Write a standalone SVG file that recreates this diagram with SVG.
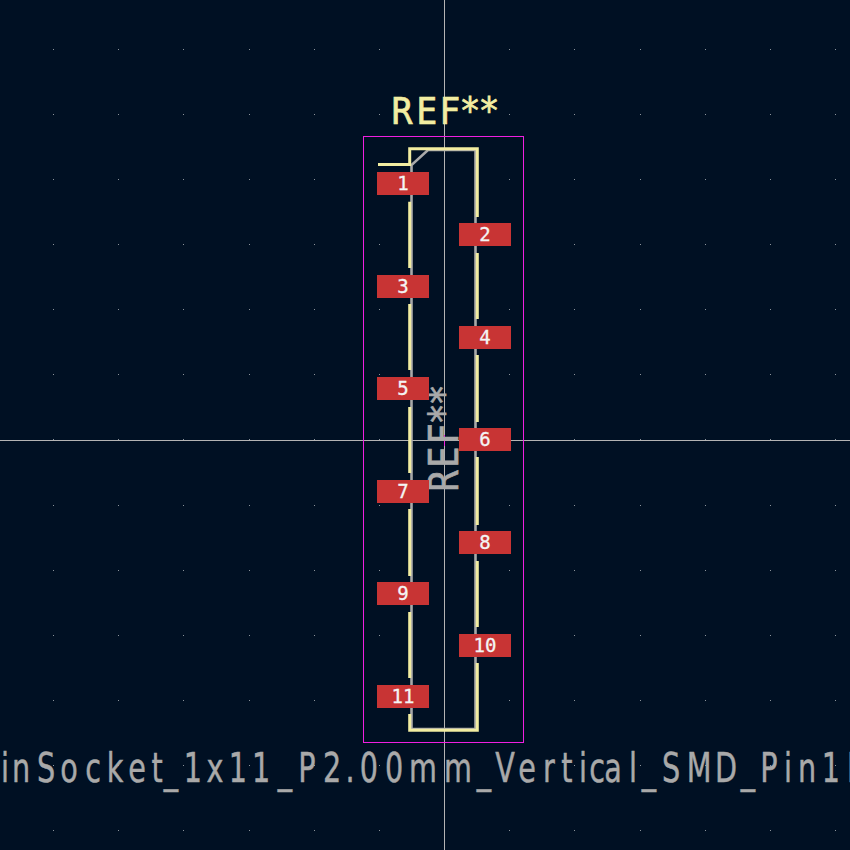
<svg xmlns="http://www.w3.org/2000/svg" width="850" height="850" viewBox="0 0 850 850">
<style>
.fab{fill:none;stroke:#a9a9a9;stroke-width:2.6}
.silk{fill:none;stroke:#f2eda1;stroke-width:3}
.cross{stroke:#b4b4b4;stroke-width:1}
.pad{fill:#c83434}
.num{fill:#f4f4f4;font-family:"DejaVu Sans Mono",monospace;font-size:19px;text-anchor:middle;stroke:#f4f4f4;stroke-width:.3}
.big{font-family:"DejaVu Sans Mono",monospace;stroke-width:.7;text-anchor:middle}
.val{font-family:"DejaVu Sans",sans-serif;stroke-width:.5;text-anchor:middle}
</style>
<defs>
<path id="row" fill="#8c939b" d="M53 0h1v1h-1zM118 0h1v1h-1zM183 0h1v1h-1zM249 0h1v1h-1zM314 0h1v1h-1zM379 0h1v1h-1zM444 0h1v1h-1zM509 0h1v1h-1zM574 0h1v1h-1zM640 0h1v1h-1zM705 0h1v1h-1zM770 0h1v1h-1zM835 0h1v1h-1z"/>
</defs>
<rect width="850" height="850" fill="#001023"/>
<g id="grid">
<use href="#row" y="49"/><use href="#row" y="114"/><use href="#row" y="179"/><use href="#row" y="244"/><use href="#row" y="309"/><use href="#row" y="374"/><use href="#row" y="439"/><use href="#row" y="505"/><use href="#row" y="570"/><use href="#row" y="635"/><use href="#row" y="700"/><use href="#row" y="765"/><use href="#row" y="830"/>
</g>
<path class="cross" d="M444.5 0V850M0 440.5H850"/>
<rect x="363.5" y="136.5" width="160" height="606" fill="none" stroke="#f01fe0" stroke-width="1"/>
<path d="M444.5 435V446" stroke="#f01fe0" stroke-width="1"/>
<path class="fab" d="M428 150H475.5V729H411.5V165Z"/>
<g id="silk">
<path class="silk" d="M378 164.5H409.7V148.7H477.3V217"/>
<path class="silk" d="M409.7 201.7V268M409.7 304V370M409.7 407V473M409.7 509V576M409.7 612V678M409.7 714V730.3H477.3V663"/>
<path class="silk" d="M477.3 253V319M477.3 355V422M477.3 457V525M477.3 561V627"/>
</g>
<text class="big" transform="translate(0 124) scale(.92 1)" font-size="38" fill="#f2eda1" stroke="#f2eda1" x="437 464 489 511 531.5">REF**</text>
<text class="big" transform="translate(457.5 439) rotate(-90) scale(.88 1)" font-size="40" fill="#a9a9a9" stroke="#a9a9a9" x="-47.7 -20.5 5.7 28.4 50">REF**</text>
<text class="val" transform="translate(0 782) scale(.7 1)" font-size="41" fill="#a9a9a9" stroke="#a9a9a9" x="7.1 30 65.7 98.6 132.9 164.3 195.7 224.3 244.3 275.7 307.1 340 372.9 407.1 438.6 474.3 500 527.1 562.9 604.3 654.3 691.4 721.4 752.9 784.3 810 832.9 852.9 875.7 904.3 927.1 958.6 998.6 1037.1 1068.6 1098.6 1125.7 1152.9 1187.1 1221.4">inSocket_1x11_P2.00mm_Vertical_SMD_Pin1L</text>
<g id="pad-1"><rect class="pad" x="377" y="172" width="52" height="23"/><text class="num" x="403" y="190">1</text></g>
<g id="pad-2"><rect class="pad" x="459" y="223" width="52" height="23"/><text class="num" x="485" y="241">2</text></g>
<g id="pad-3"><rect class="pad" x="377" y="275" width="52" height="23"/><text class="num" x="403" y="293">3</text></g>
<g id="pad-4"><rect class="pad" x="459" y="326" width="52" height="23"/><text class="num" x="485" y="344">4</text></g>
<g id="pad-5"><rect class="pad" x="377" y="377" width="52" height="23"/><text class="num" x="403" y="395">5</text></g>
<g id="pad-6"><rect class="pad" x="459" y="428" width="52" height="23"/><text class="num" x="485" y="446">6</text></g>
<g id="pad-7"><rect class="pad" x="377" y="480" width="52" height="23"/><text class="num" x="403" y="498">7</text></g>
<g id="pad-8"><rect class="pad" x="459" y="531" width="52" height="23"/><text class="num" x="485" y="549">8</text></g>
<g id="pad-9"><rect class="pad" x="377" y="582" width="52" height="23"/><text class="num" x="403" y="600">9</text></g>
<g id="pad-10"><rect class="pad" x="459" y="634" width="52" height="23"/><text class="num" x="485" y="652">10</text></g>
<g id="pad-11"><rect class="pad" x="377" y="685" width="52" height="23"/><text class="num" x="403" y="703">11</text></g>
</svg>
